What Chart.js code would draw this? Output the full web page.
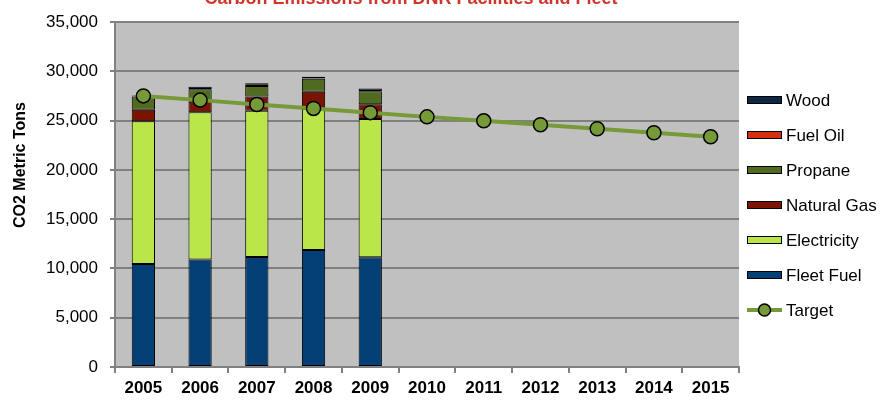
<!DOCTYPE html>
<html>
<head>
<meta charset="utf-8">
<script src="https://cdn.jsdelivr.net/npm/chart.js@4.4.1/dist/chart.umd.min.js"></script>
<style>
  html, body { margin: 0; padding: 0; background: #ffffff; }
  #wrap { position: relative; width: 883px; height: 402px; }
</style>
</head>
<body>
<div id="wrap"><canvas id="chart" width="883" height="402"></canvas></div>
<script>
// Carbon emissions (CO2 metric tons) by source, with reduction target line
const years = ['2005', '2006', '2007', '2008', '2009', '2010', '2011', '2012', '2013', '2014', '2015'];
const fleetFuel   = [10450, 10900, 11170, 11870, 11130];
const electricity = [14500, 14950, 14850, 14330, 14040];
const naturalGas  = [1170, 1070, 1440, 1730, 1510];
const propane     = [1340, 1270, 1070, 1340, 1310];
const fuelOil     = [20, 30, 120, 20, 20];
const wood        = [80, 240, 150, 180, 250];
const target      = [27520, 27090, 26650, 26250, 25820, 25390, 24990, 24590, 24180, 23780, 23370];
const yMax = 35000;
const yStep = 5000;

const chartTitle = 'Carbon Emissions from DNR Facilities and Fleet';
const yTitle = 'CO2 Metric Tons';

const FONT = "'Liberation Sans', Arial, sans-serif";
const GRID = '#808080';
const TARGET_COLOR = '#779a38';

const barSeries = [
  { label: 'Fleet Fuel',  data: fleetFuel,   color: '#033f74' },
  { label: 'Electricity', data: electricity, color: '#bae64a' },
  { label: 'Natural Gas', data: naturalGas,  color: '#7a1400' },
  { label: 'Propane',     data: propane,     color: '#506a1f' },
  { label: 'Fuel Oil',    data: fuelOil,     color: '#d92e0f' },
  { label: 'Wood',        data: wood,        color: '#0e2742' }
];

const datasets = barSeries.map(s => ({
  type: 'bar',
  label: s.label,
  data: s.data,
  backgroundColor: s.color,
  borderColor: '#000000',
  borderWidth: 1,
  borderSkipped: false,
  stack: 'emissions',
  order: 1,
  barPercentage: 0.41,
  categoryPercentage: 1.0
}));

datasets.push({
  type: 'line',
  label: 'Target',
  data: target,
  borderColor: TARGET_COLOR,
  borderWidth: 4,
  pointRadius: 7,
  pointBackgroundColor: TARGET_COLOR,
  pointBorderColor: '#000000',
  pointBorderWidth: 1.5,
  tension: 0,
  order: 0
});

// Plot background, title, rotated axis title and the side legend
const decorations = {
  id: 'decorations',
  beforeDraw(chart) {
    const { ctx, chartArea: a } = chart;
    ctx.save();
    ctx.fillStyle = '#c0c0c0';
    ctx.fillRect(a.left, a.top, a.right - a.left, a.bottom - a.top);
    ctx.restore();
  },
  afterDraw(chart) {
    const { ctx } = chart;
    ctx.save();
    // title, partly above the top edge
    ctx.fillStyle = '#d0352b';
    ctx.font = 'bold 18px ' + FONT;
    ctx.textAlign = 'center';
    ctx.textBaseline = 'alphabetic';
    ctx.fillText(chartTitle, 411, 4);

    // y axis title
    ctx.save();
    ctx.translate(21, 165);
    ctx.rotate(-Math.PI / 2);
    ctx.fillStyle = '#000000';
    ctx.font = 'bold 16px ' + FONT;
    ctx.textAlign = 'center';
    ctx.textBaseline = 'middle';
    ctx.fillText(yTitle, 0, 0);
    ctx.restore();

    // legend: bar series top-down, then target line
    const items = barSeries.slice().reverse().map(s => ({ label: s.label, color: s.color, line: false }));
    items.push({ label: 'Target', color: TARGET_COLOR, line: true });
    const x0 = 747, boxW = 35, boxH = 8, rowGap = 35;
    let y = 100;
    ctx.font = '17px ' + FONT;
    ctx.textAlign = 'left';
    ctx.textBaseline = 'middle';
    items.forEach(it => {
      if (it.line) {
        ctx.strokeStyle = it.color;
        ctx.lineWidth = 4;
        ctx.beginPath();
        ctx.moveTo(x0, y);
        ctx.lineTo(x0 + boxW, y);
        ctx.stroke();
        ctx.beginPath();
        ctx.arc(x0 + boxW / 2, y, 6, 0, Math.PI * 2);
        ctx.fillStyle = it.color;
        ctx.fill();
        ctx.lineWidth = 1.5;
        ctx.strokeStyle = '#000000';
        ctx.stroke();
      } else {
        ctx.fillStyle = it.color;
        ctx.fillRect(x0, y - boxH / 2, boxW, boxH);
        ctx.lineWidth = 1;
        ctx.strokeStyle = '#000000';
        ctx.strokeRect(x0 + 0.5, y - boxH / 2 + 0.5, boxW - 1, boxH - 1);
      }
      ctx.fillStyle = '#000000';
      ctx.fillText(it.label, x0 + boxW + 4, y + 1);
      y += rowGap;
    });
    ctx.restore();
  }
};

new Chart(document.getElementById('chart'), {
  data: { labels: years, datasets },
  plugins: [decorations],
  options: {
    responsive: false,
    animation: false,
    devicePixelRatio: 1,
    layout: { padding: { top: 19, right: 144, left: 0, bottom: 0 } },
    plugins: {
      legend: { display: false },
      title: { display: false },
      tooltip: { enabled: false }
    },
    scales: {
      x: {
        stacked: true,
        offset: true,
        afterFit(s) { s.height = 35; },
        grid: {
          offset: true,
          drawOnChartArea: false,
          drawTicks: true,
          tickLength: 6,
          color: GRID,
          lineWidth: 2
        },
        border: { display: true, color: GRID, width: 2 },
        ticks: {
          color: '#000000',
          padding: 5,
          maxRotation: 0,
          font: { family: FONT, size: 17, weight: 'bold' }
        }
      },
      y: {
        stacked: true,
        min: 0,
        max: yMax,
        afterFit(s) { s.width = 115; },
        grid: {
          color: GRID,
          lineWidth: 2,
          drawTicks: true,
          tickLength: 5
        },
        border: { display: true, color: GRID, width: 2 },
        ticks: {
          stepSize: yStep,
          color: '#000000',
          padding: 12,
          font: { family: FONT, size: 17 },
          callback: v => v.toLocaleString('en-US')
        }
      }
    }
  }
});
</script>
</body>
</html>
